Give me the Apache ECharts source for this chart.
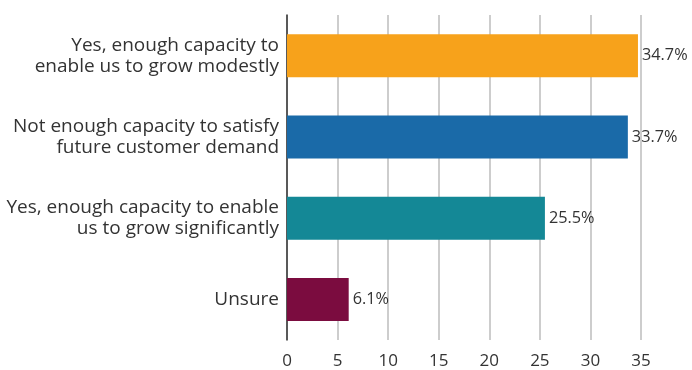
<!DOCTYPE html>
<html>
<head>
<meta charset="utf-8">
<script src="https://cdn.jsdelivr.net/npm/echarts@6/dist/echarts.min.js"></script>
<style>
  html, body { margin: 0; padding: 0; background: #fff; }
  #chart { width: 692px; height: 370px; }
</style>
</head>
<body>
<div id="chart"></div>
<script>
// Survey answers, listed bottom to top as the category axis draws them
const categories = [
  'Unsure',
  'Yes, enough capacity to enable\nus to grow significantly',
  'Not enough capacity to satisfy\nfuture customer demand',
  'Yes, enough capacity to\nenable us to grow modestly'
];
const values = [6.1, 25.5, 33.7, 34.7];
const barColors = ['#7B0C3F', '#148896', '#1A6AA8', '#F7A21B'];
const tickValues = [0, 5, 10, 15, 20, 25, 30, 35];

const font = '"Open Sans", "Noto Sans", sans-serif';
const chart = echarts.init(document.getElementById('chart'));

chart.setOption({
  animation: false,
  grid: { left: 287, right: 51, top: 15, bottom: 28 },
  xAxis: {
    type: 'value',
    min: tickValues[0],
    max: tickValues[tickValues.length - 1],
    interval: 5,
    axisLine: { show: false },
    axisTick: { show: false },
    axisLabel: { color: '#333', fontFamily: font, fontSize: 17, margin: 13 },
    splitLine: { show: true, lineStyle: { color: '#bdbdbd', width: 1.5 } }
  },
  yAxis: {
    type: 'category',
    data: categories,
    axisLine: { show: true, lineStyle: { color: '#333', width: 1.5 } },
    axisTick: { show: false },
    axisLabel: {
      color: '#333', fontFamily: font, fontSize: 19, lineHeight: 21,
      align: 'right', margin: 8
    }
  },
  series: [{
    type: 'bar',
    data: values.map((v, i) => ({ value: v, itemStyle: { color: barColors[i] } })),
    barWidth: 43,
    label: {
      show: true,
      position: 'right',
      distance: 4,
      color: '#333',
      fontFamily: font,
      fontSize: 16.3,
      formatter: p => p.value.toFixed(1) + '%'
    }
  }]
});
</script>
</body>
</html>
